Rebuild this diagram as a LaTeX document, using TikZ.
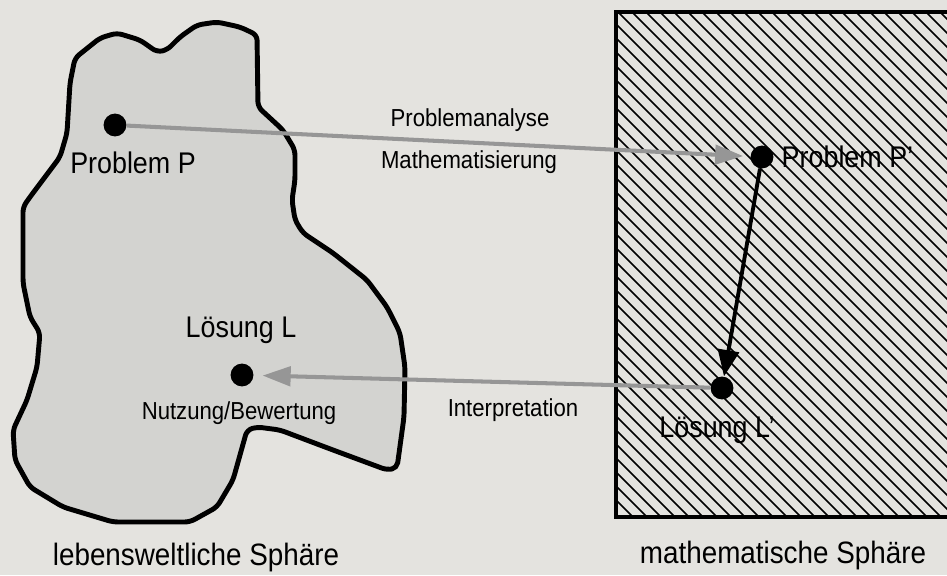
\documentclass[tikz,border=0pt]{standalone}
\usepackage{fontspec}
\setmainfont{Liberation Sans}[FakeStretch=0.9]
\usetikzlibrary{arrows.meta,positioning}
\definecolor{paper}{RGB}{228,227,223}
\definecolor{blobgray}{RGB}{211,211,208}
\definecolor{arrowgray}{RGB}{150,150,150}

\begin{document}
\begin{tikzpicture}[x=0.02cm, y=-0.02cm]
    %
    \tikzset{
        dot/.style={circle, fill=black, inner sep=0pt, minimum size=13pt},
        biglabel/.style={font=\fontsize{17}{20}\selectfont},
        smalllabel/.style={font=\fontsize{14}{16}\selectfont},
        caption/.style={font=\fontsize{17.6}{21}\selectfont},
        grayarrow/.style={draw=arrowgray, line width=2.3pt, -{Triangle[length=16pt, width=11pt]}},
        blackarrow/.style={draw=black, line width=2.2pt, -{Triangle[length=15pt, width=12pt]}},
        hatch/.style={line width=0.9pt}
    }

    %
    \fill[paper] (0,0) rectangle (947,575);
    \useasboundingbox (0,0) rectangle (947,575);

    %
    \draw[line width=2.8pt, line join=round, rounded corners=3pt, fill=blobgray]
        (75,58) -- (100,38) -- (117,33) -- (140,40) -- (157,52) -- (167,50) -- (180,37)
        -- (197,25) -- (217,22) -- (240,27) -- (257,35) -- (258,107) -- (283,130)
        -- (295,150) -- (295,180) -- (292,200) -- (295,220) -- (303,233) -- (333,253)
        -- (367,280) -- (387,307) -- (400,333) -- (405,367) -- (404,417) -- (397,468)
        -- (387,470) -- (333,450) -- (280,430) -- (257,427) -- (247,430) -- (233,480)
        -- (217,507) -- (190,522) -- (113,522) -- (63,507) -- (30,487) -- (15,460)
        -- (13,430) -- (27,400) -- (37,367) -- (40,333) -- (30,317) -- (23,283)
        -- (23,207) -- (30,197) -- (60,157) -- (67,133) -- (70,83) -- cycle;

    %
    \begin{scope}
        \clip (616,12) rectangle (965,517);
        \foreach \x in {100,114,...,960} {
            \draw[hatch] (\x,12) -- ++(520,520);
        }
    \end{scope}
    \draw[line width=2.3pt] (616,12) rectangle (965,517);

    %
    \node[dot] (P) at (115,125) {};
    \node[dot] (L) at (242,375) {};
    \node[dot] (Pm) at (762,157) {};
    \node[dot] (Lm) at (722,388) {};

    %
    \node[biglabel] (Ptext) at (133,163) {Problem P};
    \node[biglabel] (Ltext) at (241,330) {Lösung L};
    \node[biglabel, right=1pt of Pm] (Pmtext) {Problem P'};
    \node[biglabel] (Lmtext) at (717,430) {Lösung L'};
    \node[smalllabel] (Btext) at (239,413) {Nutzung/Bewertung};

    %
    \node[smalllabel] (ana) at (470,120) {Problemanalyse};
    \node[smalllabel] (mat) at (469,162) {Mathematisierung};
    \node[smalllabel] (int) at (513,410) {Interpretation};

    %
    \draw[grayarrow, shorten >=4pt] (P) -- (Pm);
    \draw[grayarrow, shorten >=5pt] (Lm) -- (L);
    \draw[blackarrow] (Pm) -- (Lm);

    %
    \node[caption] (leb) at (196,557) {lebensweltliche Sphäre};
    \node[caption] (mathsph) at (783,555) {mathematische Sphäre};

\end{tikzpicture}
\end{document}
